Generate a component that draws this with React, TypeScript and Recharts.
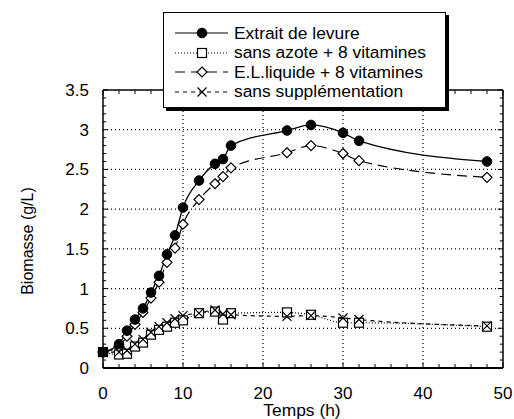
import { LineChart, Line, XAxis, YAxis, ReferenceLine } from 'recharts';

const FONT = '"Liberation Sans", Arial, Helvetica, sans-serif';

// temps de prélèvement (h)
const temps = [0, 2, 3, 4, 5, 6, 7, 8, 9, 10, 12, 14, 15, 16, 23, 26, 30, 32, 48];

// biomasse (g/L)
const extraitLevure = [0.2, 0.3, 0.47, 0.61, 0.75, 0.95, 1.16, 1.43, 1.67, 2.02, 2.36, 2.57, 2.63, 2.8, 2.99, 3.06, 2.96, 2.86, 2.6];
const sansAzote = [0.2, 0.17, 0.18, 0.27, 0.32, 0.42, 0.48, 0.52, 0.57, 0.6, 0.69, 0.71, 0.61, 0.69, 0.7, 0.67, 0.57, 0.57, 0.52];
const elLiquide = [0.2, 0.27, 0.4, 0.55, 0.7, 0.88, 1.08, 1.33, 1.51, 1.81, 2.12, 2.32, 2.41, 2.52, 2.71, 2.8, 2.7, 2.61, 2.4];
const sansSupp = [0.2, 0.2, 0.22, 0.3, 0.36, 0.45, 0.52, 0.57, 0.62, 0.66, 0.69, 0.73, 0.68, 0.67, 0.65, 0.66, 0.63, 0.61, 0.53];

const xMajor = [0, 10, 20, 30, 40, 50];
const yMajor = [0, 0.5, 1, 1.5, 2, 2.5, 3, 3.5];
const xGrid = [10, 20, 30, 40];
const yGrid = [0.5, 1, 1.5, 2, 2.5, 3];

// petites graduations
const xMinor: number[] = [];
for (let i = 0; i <= 50; i += 2) xMinor.push(i);
const yMinor: number[] = [];
for (let i = 0; i <= 35; i++) yMinor.push(i / 10);

const data = temps.map((t, i) => ({
  t,
  extrait: extraitLevure[i],
  azote: sansAzote[i],
  liquide: elLiquide[i],
  supp: sansSupp[i],
}));

const isMajorX = (v: number) => xMajor.includes(v);
const isMajorY = (v: number) => yMajor.some((m) => Math.abs(m - v) < 1e-6);

// --- marqueurs ---
const Circle = ({ cx, cy }: any) => <circle cx={cx} cy={cy} r={4.8} fill="#000" stroke="#000" />;
const Square = ({ cx, cy }: any) => (
  <rect x={cx - 4.5} y={cy - 4.5} width={9} height={9} fill="#fff" stroke="#000" strokeWidth={1.2} />
);
const Diamond = ({ cx, cy }: any) => (
  <path d={`M${cx},${cy - 5} L${cx + 5},${cy} L${cx},${cy + 5} L${cx - 5},${cy} Z`} fill="#fff" stroke="#000" strokeWidth={1.2} />
);
const Cross = ({ cx, cy }: any) => (
  <path d={`M${cx - 4.5},${cy - 4.5} L${cx + 4.5},${cy + 4.5} M${cx + 4.5},${cy - 4.5} L${cx - 4.5},${cy + 4.5}`} stroke="#000" strokeWidth={1.2} fill="none" />
);

const dotOf = (Comp: any) => (p: any) => <Comp key={`d-${p.index}`} cx={p.cx} cy={p.cy} />;

// --- étiquettes des axes ---
const BottomLabel = ({ x, y, payload }: any) => (
  <text x={x} y={y + 31} textAnchor="middle" fontSize={17} fontFamily={FONT} fill="#000">
    {payload.value}
  </text>
);
const LeftLabel = ({ x, y, payload }: any) => (
  <text x={x - 14} y={y + 6} textAnchor="end" fontSize={17} fontFamily={FONT} fill="#000">
    {payload.value}
  </text>
);

const legendItems = [
  { label: 'Extrait de levure', dash: undefined, Mark: Circle },
  { label: 'sans azote + 8 vitamines', dash: '1 2', Mark: Square },
  { label: 'E.L.liquide + 8 vitamines', dash: '10 6', Mark: Diamond },
  { label: 'sans supplémentation', dash: '4 4', Mark: Cross },
];

function Legende() {
  return (
    <div
      style={{
        position: 'absolute',
        left: 163,
        top: 12,
        width: 283,
        height: 96,
        boxSizing: 'border-box',
        border: '1.5px solid #000',
        boxShadow: '3px 3px 0 #000',
        background: '#fff',
      }}
    >
      {legendItems.map((it, i) => (
        <div key={it.label} style={{ position: 'absolute', left: 0, top: 10 + i * 19.5, height: 20, display: 'flex', alignItems: 'center' }}>
          <svg width={70} height={20} style={{ display: 'block' }}>
            <line x1={11} x2={64} y1={10} y2={10} stroke="#000" strokeWidth={1.2} strokeDasharray={it.dash} />
            <it.Mark cx={38} cy={10} />
          </svg>
          <span style={{ fontFamily: FONT, fontSize: 17.4, marginLeft: 0, whiteSpace: 'nowrap', color: '#000' }}>{it.label}</span>
        </div>
      ))}
    </div>
  );
}

const seg = (a: [number, number], b: [number, number]) => [
  { x: a[0], y: a[1] },
  { x: b[0], y: b[1] },
];

export default function App() {
  return (
    <div style={{ position: 'absolute', left: 0, top: 0, width: 514, height: 419, background: '#fff' }}>
      <LineChart width={514} height={419} data={data} margin={{ top: 90, right: 11, bottom: 0, left: 0 }}>
        {xGrid.map((v) => (
          <ReferenceLine key={`gx${v}`} x={v} stroke="#000" strokeWidth={1.2} strokeDasharray="1 3" />
        ))}
        {yGrid.map((v) => (
          <ReferenceLine key={`gy${v}`} y={v} stroke="#000" strokeWidth={1.2} strokeDasharray="1 3" />
        ))}
        {/* cadre haut et droit */}
        <ReferenceLine y={3.5} stroke="#000" strokeWidth={1.5} />
        <ReferenceLine x={50} stroke="#000" strokeWidth={1.5} />
        {/* graduations vers l'intérieur */}
        {xMinor.map((v) => {
          const l = isMajorX(v) ? 0.07 : 0.05;
          return [
            <ReferenceLine key={`tb${v}`} segment={seg([v, 0], [v, l])} stroke="#000" strokeWidth={1} ifOverflow="visible" />,
            <ReferenceLine key={`tt${v}`} segment={seg([v, 3.5], [v, 3.5 - l])} stroke="#000" strokeWidth={1} ifOverflow="visible" />,
          ];
        })}
        {yMinor.map((v) => {
          const l = isMajorY(v) ? 0.65 : 0.4;
          return [
            <ReferenceLine key={`tl${v}`} segment={seg([0, v], [l, v])} stroke="#000" strokeWidth={1} ifOverflow="visible" />,
            <ReferenceLine key={`tr${v}`} segment={seg([50, v], [50 - l, v])} stroke="#000" strokeWidth={1} ifOverflow="visible" />,
          ];
        })}
        <XAxis
          dataKey="t"
          type="number"
          domain={[0, 50]}
          ticks={xMajor}
          interval={0}
          height={51}
          tickSize={0}
          tickMargin={0}
          tickLine={false}
          tick={BottomLabel}
          axisLine={{ stroke: '#000', strokeWidth: 2 }}
        />
        <YAxis
          type="number"
          domain={[0, 3.5]}
          ticks={yMajor}
          interval={0}
          width={103}
          tickSize={0}
          tickMargin={0}
          tickLine={false}
          tick={LeftLabel}
          axisLine={{ stroke: '#000', strokeWidth: 1.5 }}
        />
        <Line type="monotone" dataKey="azote" stroke="#000" strokeWidth={1.2} strokeDasharray="1 2" dot={dotOf(Square)} isAnimationActive={false} />
        <Line type="monotone" dataKey="supp" stroke="#000" strokeWidth={1.2} strokeDasharray="4 4" dot={dotOf(Cross)} isAnimationActive={false} />
        <Line type="monotone" dataKey="liquide" stroke="#000" strokeWidth={1.2} strokeDasharray="10 6" dot={dotOf(Diamond)} isAnimationActive={false} />
        <Line type="monotone" dataKey="extrait" stroke="#000" strokeWidth={1.3} dot={dotOf(Circle)} isAnimationActive={false} />
      </LineChart>
      <div
        style={{
          position: 'absolute',
          left: 28,
          top: 241,
          transform: 'translate(-50%, -50%) rotate(-90deg)',
          fontFamily: FONT,
          fontSize: 16,
          whiteSpace: 'nowrap',
          color: '#000',
        }}
      >
        Biomasse (g/L)
      </div>
      <div
        style={{
          position: 'absolute',
          left: 302,
          top: 410,
          transform: 'translate(-50%, -50%)',
          fontFamily: FONT,
          fontSize: 17.4,
          lineHeight: '18px',
          whiteSpace: 'nowrap',
          color: '#000',
        }}
      >
        Temps (h)
      </div>
      <Legende />
    </div>
  );
}
